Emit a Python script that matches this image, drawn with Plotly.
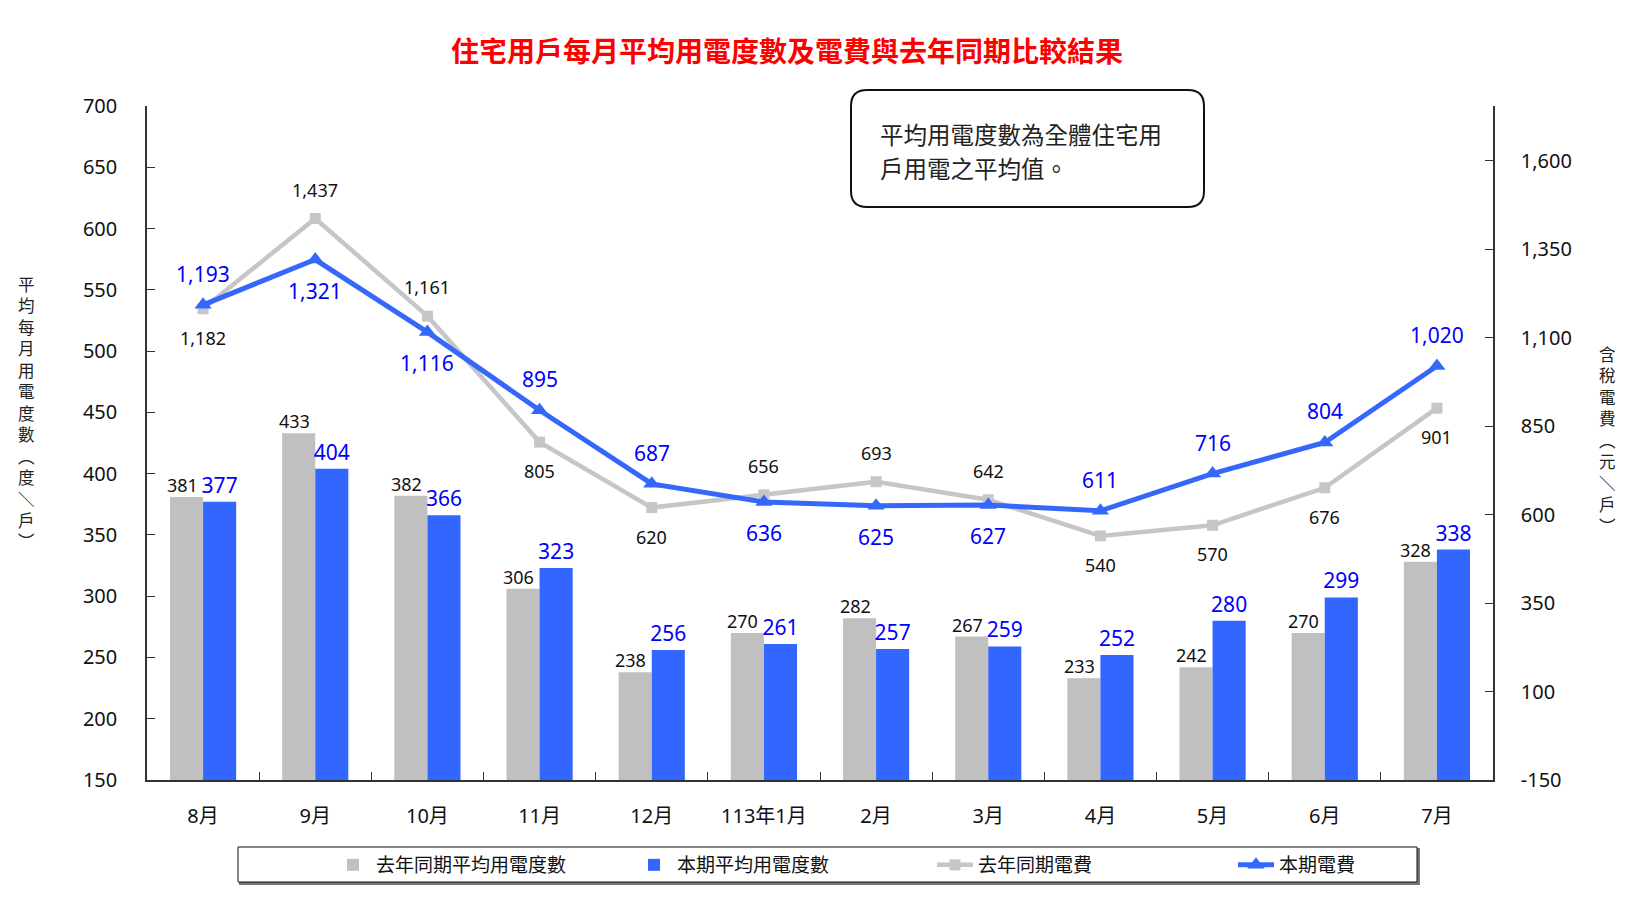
import plotly.graph_objects as go

# ---------------- data ----------------
months = ["8月", "9月", "10月", "11月", "12月", "113年1月", "2月", "3月", "4月", "5月", "6月", "7月"]
kwh_last_year = [381, 433, 382, 306, 238, 270, 282, 267, 233, 242, 270, 328]
kwh_this_year = [377, 404, 366, 323, 256, 261, 257, 259, 252, 280, 299, 338]
fee_last_year = [1182, 1437, 1161, 805, 620, 656, 693, 642, 540, 570, 676, 901]
fee_this_year = [1193, 1321, 1116, 895, 687, 636, 625, 627, 611, 716, 804, 1020]
fee_tick_values = [-150, 100, 350, 600, 850, 1100, 1350, 1600]

# label placement for line values (+1 above point, -1 below point)
fee_last_side = [-1, 1, 1, -1, -1, 1, 1, 1, -1, -1, -1, -1]
fee_this_side = [1, -1, -1, 1, 1, -1, -1, -1, 1, 1, 1, 1]

# ---------------- styles ----------------
W, H = 1631, 901
ML, MR, MT, MB = 147, 138, 106, 121
PW, PH = W - ML - MR, H - MT - MB
FONT = "Noto Sans, Noto Sans CJK TC, sans-serif"
CJK = "Noto Sans CJK TC, Noto Sans, sans-serif"
GRAY_BAR = "#C0C0C0"
BLUE_BAR = "#3366FF"
GRAY_LINE = "#C6C6C6"
BLUE_LINE = "#3568FA"
BLUE_TEXT = "#0000FF"


def px_x(px):
    return (px - ML) / PW


def px_y(py):
    return (H - MB - py) / PH


fig = go.Figure()

fig.add_trace(go.Bar(
    x=months, y=kwh_last_year, name="去年同期平均用電度數",
    marker=dict(color=GRAY_BAR, line=dict(width=0)),
))
fig.add_trace(go.Bar(
    x=months, y=kwh_this_year, name="本期平均用電度數",
    marker=dict(color=BLUE_BAR, line=dict(width=0)),
    text=kwh_this_year, textposition="outside", cliponaxis=False,
    constraintext="none", textfont=dict(size=21, color=BLUE_TEXT, family=FONT),
))
fig.add_trace(go.Scatter(
    x=months, y=fee_last_year, name="去年同期電費", yaxis="y2",
    mode="lines+markers", line=dict(color=GRAY_LINE, width=4.5),
    marker=dict(symbol="square", size=11, color=GRAY_LINE),
))
fig.add_trace(go.Scatter(
    x=months, y=fee_this_year, name="本期電費", yaxis="y2",
    mode="lines+markers", line=dict(color=BLUE_LINE, width=5),
    marker=dict(symbol="triangle-up", size=15, color=BLUE_LINE),
))

annotations = []
# last-year bar values (slightly left of their bar, as in the source)
for m, v in zip(months, kwh_last_year):
    annotations.append(dict(
        x=m, y=v, xref="x", yref="y", text=f"{v}", showarrow=False,
        xshift=-21, yshift=12, yanchor="middle",
        font=dict(size=18, color="#111111", family=FONT)))
for m, v, s in zip(months, fee_last_year, fee_last_side):
    annotations.append(dict(
        x=m, y=v, xref="x", yref="y2", text=f"{v:,}", showarrow=False,
        yshift=29 * s, font=dict(size=18, color="#111111", family=FONT)))
for m, v, s in zip(months, fee_this_year, fee_this_side):
    annotations.append(dict(
        x=m, y=v, xref="x", yref="y2", text=f"{v:,}", showarrow=False,
        yshift=31 * s, font=dict(size=21, color=BLUE_TEXT, family=FONT)))

# title
annotations.append(dict(
    xref="paper", yref="paper", x=px_x(787), y=px_y(50),
    text="<b>住宅用戶每月平均用電度數及電費與去年同期比較結果</b>",
    showarrow=False, xanchor="center", yanchor="middle",
    font=dict(size=28, color="#FF0000", family=CJK)))

# axis titles (vertical, upright characters)
left_title = "平均每月用電度數︵度＼戶︶"
right_title = "含稅電費︵元＼戶︶"
annotations.append(dict(
    xref="paper", yref="paper", x=px_x(26), y=px_y(412),
    text="<br>".join(list(left_title)), showarrow=False,
    xanchor="center", yanchor="middle",
    font=dict(size=16.5, color="#222222", family=CJK)))
annotations.append(dict(
    xref="paper", yref="paper", x=px_x(1607), y=px_y(440),
    text="<br>".join(list(right_title)), showarrow=False,
    xanchor="center", yanchor="middle",
    font=dict(size=16.5, color="#222222", family=CJK)))

# note box text (two lines)
for line_text, ly in (("平均用電度數為全體住宅用", 134), ("戶用電之平均值。", 168)):
    annotations.append(dict(
        xref="paper", yref="paper", x=px_x(878), y=px_y(ly),
        text=line_text, showarrow=False,
        xanchor="left", yanchor="middle", align="left",
        font=dict(size=23.5, color="#222222", family=CJK)))

# rounded note box
bx0, bx1, by0, by1, r = 851, 1204, 90, 207, 16
X0, X1 = px_x(bx0), px_x(bx1)
Y0, Y1 = px_y(by0), px_y(by1)  # Y0 top, Y1 bottom
rx, ry = r / PW, r / PH
path = (f"M {X0+rx},{Y0} L {X1-rx},{Y0} Q {X1},{Y0} {X1},{Y0-ry} "
        f"L {X1},{Y1+ry} Q {X1},{Y1} {X1-rx},{Y1} "
        f"L {X0+rx},{Y1} Q {X0},{Y1} {X0},{Y1+ry} "
        f"L {X0},{Y0-ry} Q {X0},{Y0} {X0+rx},{Y0} Z")
shapes = [dict(type="path", xref="paper", yref="paper", path=path,
               line=dict(color="#111111", width=2), fillcolor="white", layer="below")]

# legend frame with shadow
lx0, lx1, ly0, ly1 = 238, 1417, 847, 882
shapes.append(dict(type="rect", xref="paper", yref="paper",
                   x0=px_x(lx0 + 2), x1=px_x(lx1 + 2), y0=px_y(ly1 + 2), y1=px_y(ly0 + 2),
                   line=dict(color="#777777", width=2), fillcolor="#777777"))
shapes.append(dict(type="rect", xref="paper", yref="paper",
                   x0=px_x(lx0), x1=px_x(lx1), y0=px_y(ly1), y1=px_y(ly0),
                   line=dict(color="#111111", width=1), fillcolor="white"))

axis_common = dict(showgrid=False, zeroline=False, showline=True,
                   linecolor="#333333", linewidth=1.5, ticks="inside",
                   ticklen=8, tickcolor="#333333", tickwidth=1,
                   tickfont=dict(size=20, color="#111111", family=FONT))

fig.update_layout(
    width=W, height=H, autosize=False,
    margin=dict(l=ML, r=MR, t=MT, b=MB, pad=0),
    paper_bgcolor="white", plot_bgcolor="white",
    barmode="group", bargap=0.41, bargroupgap=0,
    font=dict(family=FONT, color="#111111"),
    xaxis=dict(type="category", tickson="boundaries", ticklabelstandoff=17,
               range=[-0.5, len(months) - 0.5], **axis_common),
    yaxis=dict(range=[150, 700], dtick=50, tick0=150, ticklabelstandoff=24,
               **axis_common),
    yaxis2=dict(range=[-150, 1755], tickmode="array", tickvals=fee_tick_values,
                ticktext=[f"{v:,}" for v in fee_tick_values],
                overlaying="y", side="right", ticklabelstandoff=22,
                **axis_common),
    showlegend=True,
    legend=dict(orientation="h", xanchor="left", yanchor="middle",
                x=px_x(330), y=px_y(865), bgcolor="rgba(0,0,0,0)",
                borderwidth=0, font=dict(size=19, color="#111111", family=CJK),
                entrywidth=250, entrywidthmode="pixels", itemwidth=36,
                traceorder="normal"),
    annotations=annotations,
    shapes=shapes,
)

fig.write_html("out.html")
